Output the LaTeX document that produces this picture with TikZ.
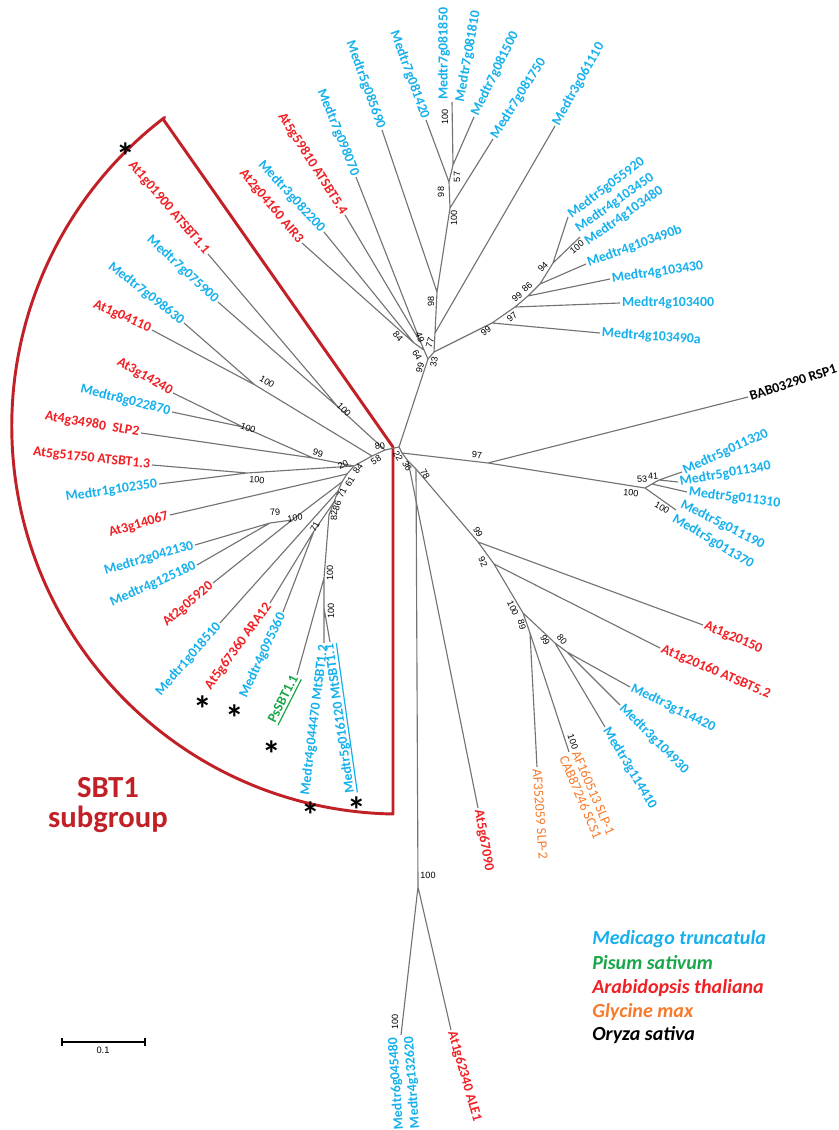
\documentclass[tikz,border=0pt]{standalone}
\usepackage{fontspec}
\setmainfont{Carlito}
\newfontfamily\arialf{Liberation Sans}
\definecolor{mtblue}{RGB}{22,176,236}
\definecolor{atred}{RGB}{240,32,36}
\definecolor{psgreen}{RGB}{24,166,72}
\definecolor{gmorange}{RGB}{246,122,42}
\definecolor{boxred}{RGB}{192,32,38}
\definecolor{branchgray}{RGB}{115,115,115}
\newcommand\myul[1]{\setbox0=\hbox{#1}\rlap{\rule[-2.8pt]{\wd0}{0.9pt}}\box0}
\tikzset{
  brn/.style={draw=branchgray, line width=0.85pt},
  lbl/.style={inner sep=1.3pt, font=\fontsize{10.4}{12}\selectfont},
  mtl/.style={lbl, text=mtblue, font=\fontsize{10.4}{12}\selectfont\bfseries},
  atl/.style={lbl, text=atred, font=\fontsize{10.4}{12}\selectfont\bfseries},
  gml/.style={lbl, text=gmorange},
  psl/.style={lbl, text=psgreen, font=\fontsize{10.4}{12}\selectfont\bfseries},
  osl/.style={lbl, text=black, font=\fontsize{10.4}{12}\selectfont\bfseries},
  boot/.style={inner sep=0pt, font=\arialf\fontsize{6.8}{7}\selectfont},
  astk/.style={inner sep=0pt, anchor=base, font=\fontsize{28}{28}\selectfont\bfseries},
  legend/.style={inner sep=0pt, anchor=west, font=\fontsize{15}{17}\selectfont\bfseries\itshape}
}
\begin{document}
\begin{tikzpicture}[x=0.75pt,y=-0.75pt]
\useasboundingbox (0,0) rectangle (838,1130);

% ---------- SBT1 box ----------
\draw[boxred, line width=2.2pt, line join=round] (163,119) -- (393,447) -- (393,814)
  arc[start angle=91, end angle=232.7, radius=388] -- cycle;
\node[text=boxred, align=center, font=\fontsize{23}{22.5}\selectfont\bfseries] (sbt) at (108,805) {SBT1\\subgroup};

% ---------- internal nodes ----------
\coordinate (R) at (399,447);
\coordinate (U99) at (428,359);
\coordinate (U33) at (434,352);
\coordinate (U64) at (424,350);
\coordinate (U84) at (414,343);
\coordinate (U49) at (421,343);
\coordinate (U77) at (435,333);
\coordinate (U98) at (437,292);
\coordinate (U100) at (450,208);
\coordinate (U98b) at (449,182);
\coordinate (U57) at (453,165);
\coordinate (N99b) at (492,323);
\coordinate (N97) at (515,307);
\coordinate (N99c) at (528,296);
\coordinate (N86) at (540,284);
\coordinate (N94) at (553,263);
\coordinate (N22) at (402,453);
\coordinate (N36) at (408,461);
\coordinate (N78) at (416,469);
\coordinate (N97r) at (488,463);
\coordinate (N100r) at (645,488);
\coordinate (N53) at (652,484);
\coordinate (N41) at (659,480);
\coordinate (N99r) at (478,542);
\coordinate (N92) at (494,564);
\coordinate (N100d) at (523,613);
\coordinate (N89) at (530,633);
\coordinate (N99d) at (555,643);
\coordinate (N80d) at (567,652);
\coordinate (H100) at (418,887);
\coordinate (S80) at (385,450);
\coordinate (S58) at (372,456);
\coordinate (S20) at (354,466);
\coordinate (S84) at (347,474);
\coordinate (S61) at (342,482);
\coordinate (S71) at (338,491);
\coordinate (S86) at (334,502);
\coordinate (S82) at (329,515);
\coordinate (A100b) at (338,407);
\coordinate (A100a) at (255,385);
\coordinate (B100) at (243,427);
\coordinate (B99) at (313,458);
\coordinate (C100) at (247,473);
\coordinate (F100) at (292,520);
\coordinate (F79) at (270,523);
\coordinate (F71) at (314,531);
\coordinate (G100) at (324,578);
\coordinate (G100b) at (324,608);

% ---------- tips ----------
\coordinate (tAIR3) at (302,243);
\coordinate (t3g082200) at (324,232);
\coordinate (t5g59810) at (345,215);
\coordinate (t7g098070) at (356,177);
\coordinate (t5g085690) at (382,130);
\coordinate (t7g081420) at (426,120);
\coordinate (t7g0818) at (452,102);
\coordinate (t7g081500) at (474,117);
\coordinate (t7g081750) at (493,139);
\coordinate (t3g061110) at (555,126);
\coordinate (t4g103490a) at (600,333);
\coordinate (t4g103400) at (620,303);
\coordinate (t4g103430) at (610,279);
\coordinate (t4g103490b) at (586,264);
\coordinate (t5g055920) at (568,217);
\coordinate (t4g10345) at (580,237);
\coordinate (tBAB) at (748,397);
\coordinate (t011320) at (682,472);
\coordinate (t011340) at (678,482);
\coordinate (t011310) at (687,492);
\coordinate (t01119) at (676,510);
\coordinate (t1g20150) at (703,625);
\coordinate (t1g20160) at (660,648);
\coordinate (t3g114420) at (630,687);
\coordinate (t3g104930) at (620,705);
\coordinate (t3g114410) at (605,727);
\coordinate (tAF160) at (569,752);
\coordinate (tAF352) at (537,767);
\coordinate (t5g67090) at (478,808);
\coordinate (t6g) at (401,1035);
\coordinate (tALE1) at (451,1030);
\coordinate (t1g01900) at (208,254);
\coordinate (t7g075900) at (218,302);
\coordinate (t7g098630) at (184,323);
\coordinate (t1g04110) at (152,330);
\coordinate (t3g14240) at (173,393);
\coordinate (t8g022870) at (172,412);
\coordinate (t4g34980) at (141,433);
\coordinate (t5g51750) at (152,465);
\coordinate (t1g102350) at (159,484);
\coordinate (t3g14067) at (170,515);
\coordinate (t2g042130) at (195,545);
\coordinate (t4g125180) at (197,565);
\coordinate (t2g05920) at (213,583);
\coordinate (t1g018510) at (220,623);
\coordinate (t5g67360) at (270,603);
\coordinate (t4g095360) at (283,612);
\coordinate (tPs) at (297,675);
\coordinate (t4g044470) at (324,643);
\coordinate (t5g016120) at (330,642);

% ---------- branches ----------
\draw[brn] (R) -- (U99) (U99) -- (U33) (U99) -- (U64) (U64) -- (U84) (U64) -- (U49)
  (U84) -- (tAIR3) (U84) -- (t3g082200) (U49) -- (t5g59810) (U49) -- (t7g098070)
  (U33) -- (U77) (U77) -- (t3g061110) (U77) -- (U98) (U98) -- (t5g085690)
  (U98) -- (U100) (U100) -- (t7g081750) (U100) -- (U98b) (U98b) -- (t7g081420)
  (U98b) -- (U57) (U57) -- (t7g0818) (U57) -- (t7g081500);
\draw[brn] (U33) -- (N99b) (N99b) -- (t4g103490a) (N99b) -- (N97) (N97) -- (t4g103400)
  (N97) -- (N99c) (N99c) -- (t4g103430) (N99c) -- (N86) (N86) -- (t4g103490b)
  (N86) -- (N94) (N94) -- (t5g055920) (N94) -- (t4g10345);
\draw[brn] (R) -- (N22) (N22) -- (N97r) (N22) -- (N36) (N36) -- (N78) (N36) -- (t5g67090)
  (N97r) -- (tBAB) (N97r) -- (N100r) (N100r) -- (N53) (N100r) -- (t01119)
  (N53) -- (t011310) (N53) -- (N41) (N41) -- (t011320) (N41) -- (t011340);
\draw[brn] (N78) -- (N99r) (N99r) -- (t1g20150) (N99r) -- (N92) (N92) -- (t1g20160)
  (N92) -- (N100d) (N100d) -- (N89) (N100d) -- (N99d) (N89) -- (tAF352) (N89) -- (tAF160)
  (N99d) -- (t3g114410) (N99d) -- (N80d) (N80d) -- (t3g114420) (N80d) -- (t3g104930);
\draw[brn] (N78) -- (H100) (H100) -- (t6g) (H100) -- (tALE1);
\draw[brn] (R) -- (S80) -- (S58) -- (S20) -- (S84) -- (S61) -- (S71) -- (S86) -- (S82);
\draw[brn] (S80) -- (A100b) (A100b) -- (t1g01900) (A100b) -- (t7g075900)
  (S58) -- (A100a) (A100a) -- (t1g04110) (A100a) -- (t7g098630)
  (S20) -- (B99) (B99) -- (B100) (B100) -- (t3g14240) (B100) -- (t8g022870) (B99) -- (t4g34980)
  (S20) -- (C100) (C100) -- (t5g51750) (C100) -- (t1g102350)
  (S84) -- (t3g14067)
  (S61) -- (F100) (F100) -- (F79) (F79) -- (t2g042130) (F79) -- (t4g125180) (F100) -- (t2g05920)
  (S71) -- (t1g018510)
  (S86) -- (F71) (F71) -- (t5g67360) (F71) -- (t4g095360)
  (S82) -- (G100) (G100) -- (tPs) (G100) -- (G100b) (G100b) -- (t4g044470) (G100b) -- (t5g016120);

% ---------- tip labels ----------
\node[atl, rotate=-50, anchor=east] (lAIR3) at (tAIR3) {At2g04160 AIR3};
\node[mtl, rotate=-47.6, anchor=east] (l3g082200) at (t3g082200) {Medtr3g082200};
\node[atl, rotate=-57.5, anchor=east] (l5g59810) at (t5g59810) {At5g59810 ATSBT5.4};
\node[mtl, rotate=-68, anchor=east] (l7g098070) at (t7g098070) {Medtr7g098070};
\node[mtl, rotate=-70, anchor=east] (l5g085690) at (t5g085690) {Medtr5g085690};
\node[mtl, rotate=-70, anchor=east] (l7g081420) at (t7g081420) {Medtr7g081420};
\node[mtl, rotate=90, anchor=south west] (l7g081850) at (t7g0818) {Medtr7g081850};
\node[mtl, rotate=80, anchor=north west] (l7g081810) at (t7g0818) {Medtr7g081810};
\node[mtl, rotate=64, anchor=west] (l7g081500) at (t7g081500) {Medtr7g081500};
\node[mtl, rotate=58, anchor=west] (l7g081750) at (t7g081750) {Medtr7g081750};
\node[mtl, rotate=60.7, anchor=west] (l3g061110) at (t3g061110) {Medtr3g061110};
\node[mtl, rotate=37, anchor=west] (l5g055920) at (t5g055920) {Medtr5g055920};
\node[mtl, rotate=35, anchor=south west] (l4g103450) at (t4g10345) {Medtr4g103450};
\node[mtl, rotate=35, anchor=north west] (l4g103480) at (t4g10345) {Medtr4g103480};
\node[mtl, rotate=20, anchor=west] (l4g103490b) at (t4g103490b) {Medtr4g103490b};
\node[mtl, rotate=8, anchor=west] (l4g103430) at (t4g103430) {Medtr4g103430};
\node[mtl, rotate=0, anchor=west] (l4g103400) at (t4g103400) {Medtr4g103400};
\node[mtl, rotate=-4, anchor=west] (l4g103490a) at (t4g103490a) {Medtr4g103490a};
\node[osl, rotate=18, anchor=west] (lBAB) at (tBAB) {BAB03290 RSP1};
\node[mtl, rotate=24.6, anchor=west] (l011320) at (t011320) {Medtr5g011320};
\node[mtl, rotate=9.7, anchor=west] (l011340) at (t011340) {Medtr5g011340};
\node[mtl, rotate=-7, anchor=west] (l011310) at (t011310) {Medtr5g011310};
\node[mtl, rotate=-27, anchor=south west] (l011190) at (t01119) {Medtr5g011190};
\node[mtl, rotate=-31, anchor=north west] (l011370) at (t01119) {Medtr5g011370};
\node[atl, rotate=-23, anchor=west] (l1g20150) at (t1g20150) {At1g20150};
\node[atl, rotate=-23.4, anchor=west] (l1g20160) at (t1g20160) {At1g20160 ATSBT5.2};
\node[mtl, rotate=-26, anchor=west] (l3g114420) at (t3g114420) {Medtr3g114420};
\node[mtl, rotate=-45, anchor=west] (l3g104930) at (t3g104930) {Medtr3g104930};
\node[mtl, rotate=-59, anchor=west] (l3g114410) at (t3g114410) {Medtr3g114410};
\node[gml, rotate=-67, anchor=south west] (lAF160) at (tAF160) {AF160513 SLP-1};
\node[gml, rotate=-67, anchor=north west] (lCAB) at (tAF160) {CAB87246 SCS1};
\node[gml, rotate=-86, anchor=west] (lAF352) at (tAF352) {AF352059 SLP-2};
\node[atl, rotate=-80, anchor=west] (l5g67090) at (t5g67090) {At5g67090};
\node[mtl, rotate=94, anchor=south east] (l6g) at (t6g) {Medtr6g045480};
\node[mtl, rotate=94, anchor=north east] (l4g132620) at (t6g) {Medtr4g132620};
\node[atl, rotate=-74, anchor=west] (lALE1) at (tALE1) {At1g62340 ALE1};
\node[atl, rotate=-49.6, anchor=east] (l1g01900) at (t1g01900) {At1g01900 ATSBT1.1};
\node[mtl, rotate=-42.8, anchor=east] (l7g075900) at (t7g075900) {Medtr7g075900};
\node[mtl, rotate=-38, anchor=east] (l7g098630) at (t7g098630) {Medtr7g098630};
\node[atl, rotate=-24, anchor=east] (l1g04110) at (t1g04110) {At1g04110};
\node[atl, rotate=-30, anchor=east] (l3g14240) at (t3g14240) {At3g14240};
\node[mtl, rotate=-14, anchor=east] (l8g022870) at (t8g022870) {Medtr8g022870};
\node[atl, rotate=-10, anchor=east] (l4g34980) at (t4g34980) {At4g34980\enspace SLP2};
\node[atl, rotate=-6, anchor=east] (l5g51750) at (t5g51750) {At5g51750 ATSBT1.3};
\node[mtl, rotate=8, anchor=east] (l1g102350) at (t1g102350) {Medtr1g102350};
\node[atl, rotate=17, anchor=east] (l3g14067) at (t3g14067) {At3g14067};
\node[mtl, rotate=16, anchor=east] (l2g042130) at (t2g042130) {Medtr2g042130};
\node[mtl, rotate=23.6, anchor=east] (l4g125180) at (t4g125180) {Medtr4g125180};
\node[atl, rotate=40.7, anchor=east] (l2g05920) at (t2g05920) {At2g05920};
\node[mtl, rotate=49, anchor=east] (l1g018510) at (t1g018510) {Medtr1g018510};
\node[atl, rotate=54, anchor=east] (l5g67360) at (t5g67360) {At5g67360 ARA12};
\node[mtl, rotate=65, anchor=east] (l4g095360) at (t4g095360) {Medtr4g095360};
\node[psl, rotate=63, anchor=east] (lPs) at (tPs) {\myul{PsSBT1.1}};
\node[mtl, rotate=83, anchor=east] (l4g044470) at (t4g044470) {Medtr4g044470 MtSBT1.2};
\node[mtl, rotate=98, anchor=east] (l5g016120) at (t5g016120) {\myul{Medtr5g016120 MtSBT1.1}};

% ---------- bootstrap values ----------
\node[boot, rotate=90] (b1) at (445,117) {100};
\node[boot, rotate=90] (b2) at (457,177) {57};
\node[boot, rotate=90] (b3) at (441,192) {98};
\node[boot, rotate=90] (b4) at (454,218) {100};
\node[boot, rotate=90] (b5) at (431,301) {98};
\node[boot, rotate=75] (b6) at (430,343) {77};
\node[boot, rotate=80] (b7) at (434,362) {33};
\node[boot, rotate=-70] (b8) at (420,337) {49};
\node[boot, rotate=-50] (b9) at (398,336) {84};
\node[boot, rotate=-60] (b10) at (417,355) {64};
\node[boot, rotate=75] (b11) at (420,368) {99};
\node[boot, rotate=38] (b12) at (486,331) {99};
\node[boot, rotate=40] (b13) at (512,317) {97};
\node[boot, rotate=40] (b14) at (517,297) {99};
\node[boot, rotate=40] (b15) at (527,287) {86};
\node[boot, rotate=45] (b16) at (543,267) {94};
\node[boot, rotate=40] (b17) at (577,247) {100};
\node[boot, rotate=-60] (b18) at (398,456) {22};
\node[boot, rotate=-60] (b19) at (407,466) {36};
\node[boot, rotate=-60] (b20) at (425,474) {78};
\node[boot, rotate=-3] (b21) at (477,455) {97};
\node[boot, rotate=-5] (b22) at (631,493) {100};
\node[boot, rotate=5] (b23) at (642,479) {53};
\node[boot, rotate=5] (b24) at (653,476) {41};
\node[boot, rotate=-30] (b25) at (662,508) {100};
\node[boot, rotate=-60] (b26) at (478,532) {99};
\node[boot, rotate=-65] (b27) at (483,562) {92};
\node[boot, rotate=-65] (b28) at (513,608) {100};
\node[boot, rotate=-75] (b29) at (522,625) {89};
\node[boot, rotate=-60] (b30) at (545,640) {99};
\node[boot, rotate=-50] (b31) at (562,639) {80};
\node[boot, rotate=-70] (b32) at (573,742) {100};
\node[boot] (b33) at (428,875) {100};
\node[boot, rotate=90] (b34) at (395,1022) {100};
\node[boot, rotate=8] (b35) at (380,446) {80};
\node[boot, rotate=30] (b36) at (376,460) {58};
\node[boot, rotate=-45] (b37) at (344,410) {100};
\node[boot, rotate=-30] (b38) at (267,382) {100};
\node[boot, rotate=-20] (b39) at (248,428) {100};
\node[boot, rotate=-15] (b40) at (318,453) {99};
\node[boot, rotate=25] (b41) at (343,465) {20};
\node[boot, rotate=-5] (b42) at (257,480) {100};
\node[boot, rotate=55] (b43) at (358,469) {84};
\node[boot, rotate=60] (b44) at (350,482) {61};
\node[boot, rotate=65] (b45) at (342,493) {71};
\node[boot, rotate=75] (b46) at (337,506) {86};
\node[boot, rotate=90] (b47) at (334,515) {82};
\node[boot, rotate=5] (b48) at (275,512) {79};
\node[boot, rotate=10] (b49) at (295,518) {100};
\node[boot, rotate=60] (b50) at (315,527) {71};
\node[boot, rotate=90] (b51) at (330,573) {100};
\node[boot, rotate=90] (b52) at (331,611) {100};

% ---------- asterisks ----------
\node[astk] (a1) at (126,170) {*};
\node[astk] (a2) at (203,722) {*};
\node[astk] (a3) at (235,731) {*};
\node[astk] (a4) at (272,767) {*};
\node[astk] (a5) at (311,828) {*};
\node[astk] (a6) at (357,823) {*};

% ---------- legend ----------
\node[legend, text=mtblue] (g1) at (592,939) {Medicago truncatula};
\node[legend, text=psgreen] (g2) at (592,963) {Pisum sativum};
\node[legend, text=atred] (g3) at (592,988) {Arabidopsis thaliana};
\node[legend, text=gmorange] (g4) at (592,1012) {Glycine max};
\node[legend, text=black] (g5) at (592,1035) {Oryza sativa};

% ---------- scale bar ----------
\coordinate (sb1) at (62,1042);
\coordinate (sb2) at (145,1042);
\draw[line width=0.8pt] (sb1) -- (sb2);
\draw[line width=0.8pt] (sb1) ++(0,-4) -- ++(0,8);
\draw[line width=0.8pt] (sb2) ++(0,-4) -- ++(0,8);
\node[boot, font=\arialf\fontsize{7}{8}\selectfont] (sbl) at (103,1050) {0.1};
\end{tikzpicture}
\end{document}
